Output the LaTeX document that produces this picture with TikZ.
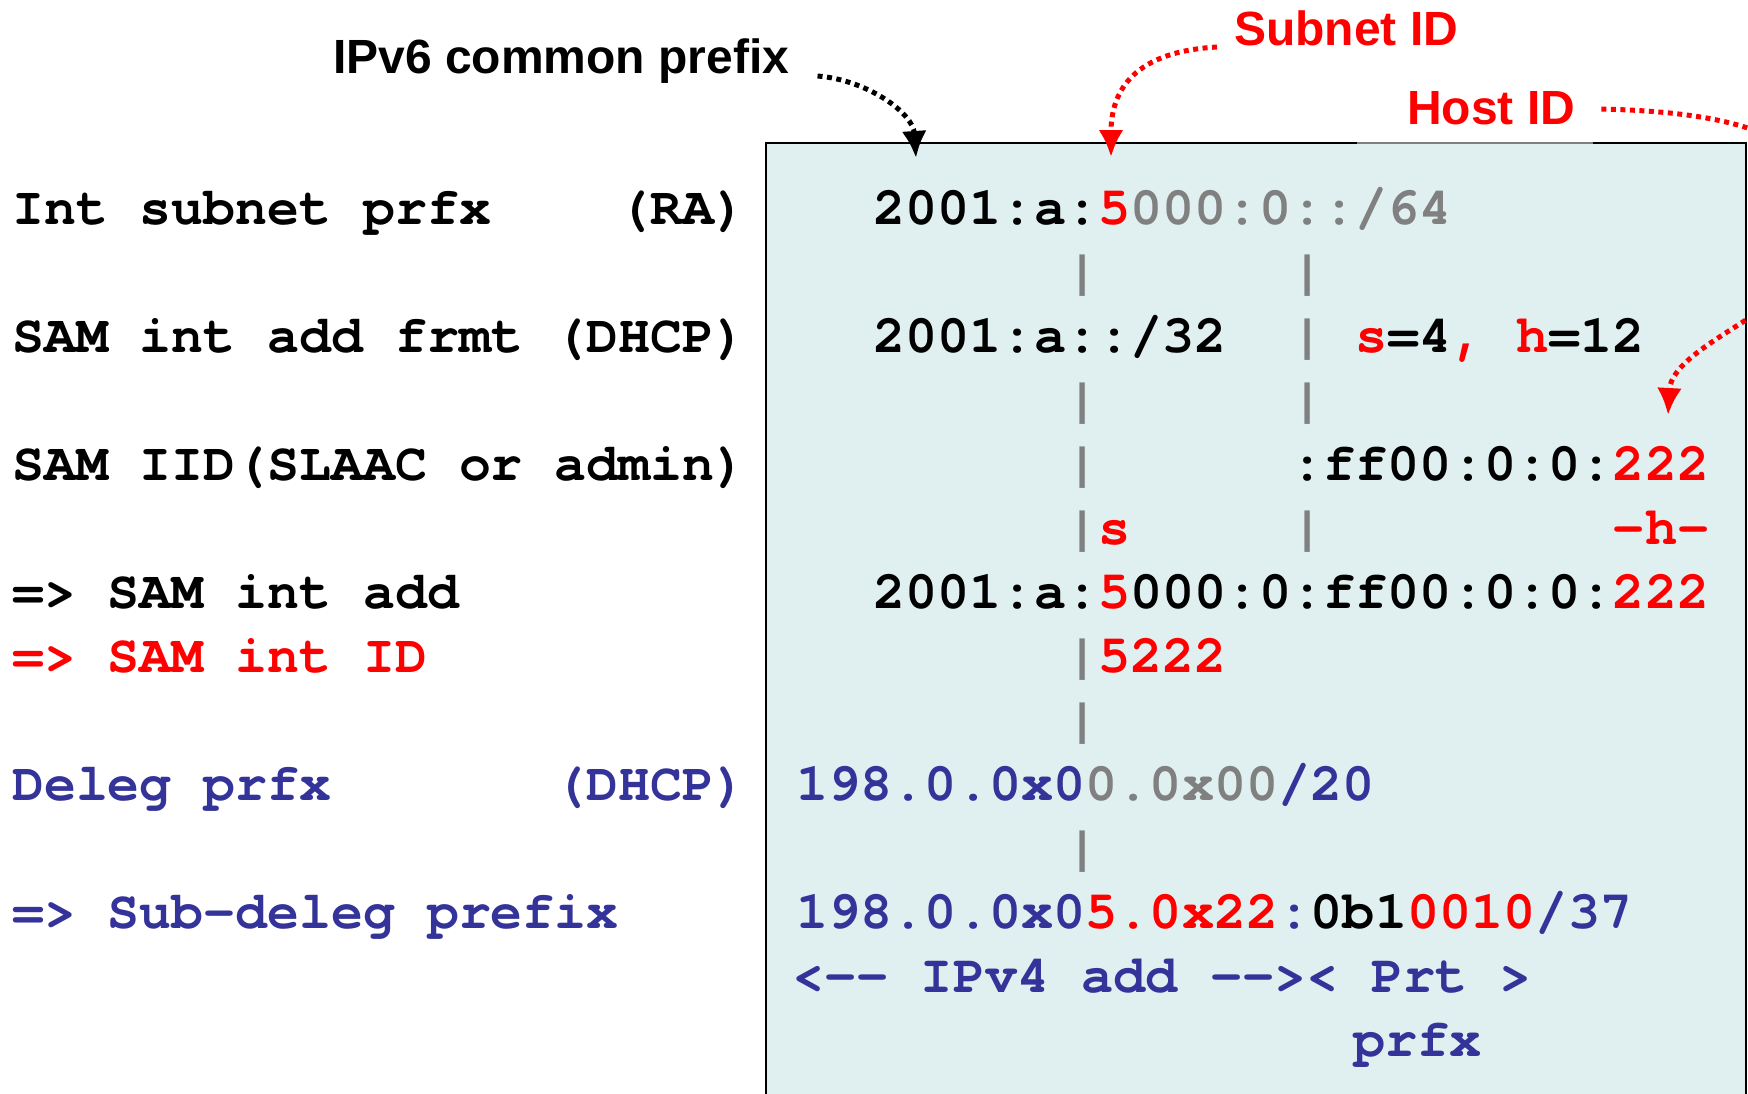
\documentclass[tikz,border=0pt]{standalone}
\usepackage{fontspec}
\usepackage{xcolor}
\usetikzlibrary{arrows.meta}
\usetikzlibrary{positioning}

\newfontfamily\codefont{TeX Gyre Cursor}[Ligatures={NoCommon}]
\newfontfamily\labelfont{Liberation Sans}

\definecolor{boxfill}{RGB}{224,240,240}
\definecolor{delegblue}{RGB}{51,51,153}
\definecolor{bargray}{RGB}{128,128,128}

\newcommand{\rd}[1]{\textcolor{red}{#1}}
\newcommand{\gy}[1]{\textcolor{bargray}{#1}}

\begin{document}
\frenchspacing
\begin{tikzpicture}[x=1pt,y=-1pt,
  code/.style={anchor=base west,inner sep=0pt,font=\codefont\bfseries\fontsize{53.6}{64}\selectfont},
  leftcode/.style={code,font=\codefont\bfseries\fontsize{53.2}{64}\selectfont},
  tag/.style={anchor=base west,inner sep=0pt,font=\labelfont\bfseries\fontsize{48}{56}\selectfont},
  pointer/.style={line width=5pt,dash pattern=on 5pt off 4.5pt,-{Latex[length=27pt,width=25pt]}}]
  \useasboundingbox (0,0) rectangle (1748,1093);
  \clip (0,0) rectangle (1748,1093);

  % shaded box
  \draw[fill=boxfill,line width=1.5pt] (766,1130) -- (766,143) -- (1746,143) -- (1746,1130);
  \draw[bargray,line width=1.5pt] (1357,143) -- (1593,143);

  % left column
  \node[leftcode] (l0) at (12,224) {Int~subnet~prfx~~~~(RA)};
  \node[leftcode] (l1) at (12,352) {SAM~int~add~frmt~(DHCP)};
  \node[leftcode] (l2) at (12,480) {SAM~IID(SLAAC~or~admin)};
  \node[leftcode] (l3) at (12,608) {=>~SAM~int~add};
  \node[leftcode,red] (l4) at (12,672) {=>~SAM~int~ID};
  \node[leftcode,delegblue] (l5) at (12,800) {Deleg~prfx~~~~~~~(DHCP)};
  \node[leftcode,delegblue] (l6) at (12,928) {=>~Sub-deleg~prefix};

  % IPv6 part
  \node[code] (r0) at (873,224) {2001:a:\rd{5}\gy{000:0::/64}};
  \node[code] (r1) at (873,288) {\gy{~~~~~~|~~~~~~|}};
  \node[code] (r2) at (873,352) {2001:a::/32~~\gy{|}~\rd{s}=4\rd{,}~\rd{h}=12};
  \node[code] (r3) at (873,416) {\gy{~~~~~~|~~~~~~|}};
  \node[code] (r4) at (873,480) {\gy{~~~~~~|}~~~~~~:f\kern0ptf00:0:0:\rd{222}};
  \node[code] (r5) at (873,544) {\gy{~~~~~~|}\rd{s}~~~~~\gy{|}~~~~~~~~~\rd{-h-}};
  \node[code] (r6) at (873,608) {2001:a:\rd{5}000:0:f\kern0ptf00:0:0:\rd{222}};
  \node[code] (r7) at (873,672) {\gy{~~~~~~|}\rd{5222}};
  \node[code] (r8) at (873,736) {\gy{~~~~~~|}};
  \node[code] (r10) at (873,864) {\gy{~~~~~~|}};

  % IPv4 part
  \node[code,delegblue] (r9) at (796,800) {198.0.0x0\gy{0.0x00}/20};
  \node[code,delegblue] (r11) at (796,928) {198.0.0x0\rd{5.0x22}:\textcolor{black}{0b1}\rd{0010}/37};
  \node[code,delegblue] (r12) at (792,992) {<-\kern0pt-~IPv4~add~-\kern0pt->\kern0pt<~Prt~>};
  \node[code,delegblue] (r13) at (1353,1056) {prfx};

  % labels
  \node[tag] (common) at (333,73) {IPv6 common prefix};
  \node[tag,red] (subnet) at (1234,45) {Subnet ID};
  \node[tag,red] (host) at (1407,124) {Host ID};

  \coordinate (commontip) at (916,158);
  \coordinate (subnettip) at (1111,157);
  \coordinate (hostbend) at (1830,225);
  \coordinate (hosttip) at (1668,415);

  % pointers
  \draw[pointer] ([xshift=28pt,yshift=-3pt]common.base east) .. controls +(50,4) and +(-3,-45) .. (commontip);
  \draw[pointer,red] ([xshift=-17pt,yshift=-2pt]subnet.base west) .. controls +(-90,5) and +(0,-60) .. (subnettip);
  \draw[pointer,red] ([xshift=26pt,yshift=15pt]host.base east) .. controls (1720,112) and (1830,130) .. (hostbend)
    .. controls (1830,300) and (1672,340) .. (hosttip);
\end{tikzpicture}
\end{document}
